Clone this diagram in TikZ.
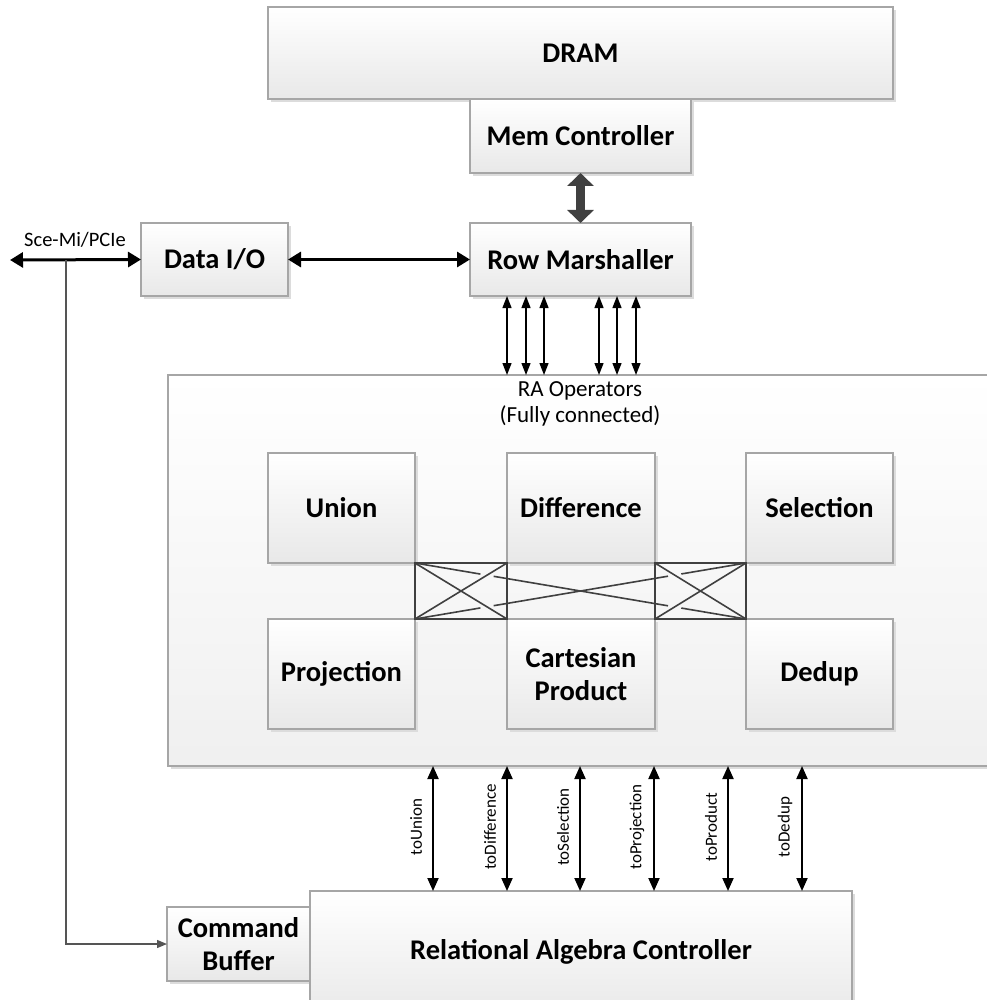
\documentclass[tikz,border=0pt]{standalone}
\usepackage{fontspec}
\setmainfont{Carlito}
\usetikzlibrary{arrows.meta,calc,shadows}
\definecolor{edge}{HTML}{A6A6A6}
\definecolor{shade}{HTML}{DCDCDC}
\definecolor{wire}{HTML}{404040}
\definecolor{tapline}{HTML}{555555}
\begin{document}
\begin{tikzpicture}[x=1pt,y=-1pt,
  block/.style={draw=edge, line width=1.1pt, top color=white, bottom color=black!9,
    inner sep=0pt, outer sep=0pt, align=center,
    font=\fontsize{28.5}{33}\selectfont\bfseries,
    drop shadow={shadow xshift=3pt, shadow yshift=-3pt, fill=shade, opacity=1}},
  panel/.style={block, top color=white, bottom color=black!6},
  small/.style={font=\fontsize{23}{26}\selectfont, align=center},
  vlabel/.style={font=\fontsize{17}{20}\selectfont, rotate=90},
  bus/.style={line width=3pt, {Triangle[width=15pt,length=13pt]}-{Triangle[width=15pt,length=13pt]}},
  lane/.style={line width=1.3pt, {Triangle[width=9pt,length=12pt]}-{Triangle[width=9pt,length=12pt]}},
  port/.style={line width=2pt, {Triangle[width=11pt,length=13pt]}-{Triangle[width=11pt,length=13pt]}},
  xbar/.style={draw=wire, line width=1.6pt, inner sep=0pt, outer sep=0pt},
  xwire/.style={draw=wire, line width=1.6pt}
]
\useasboundingbox (0,0) rectangle (986,1000);

% memory side
\node[block, minimum width=625pt, minimum height=92pt] (dram) at (580.5,53) {DRAM};
\node[block, minimum width=221pt, minimum height=74pt] (mem) at (580.5,136) {Mem Controller};
\node[block, minimum width=221pt, minimum height=73pt] (row) at (580.5,259.5) {Row Marshaller};
\node[block, minimum width=147pt, minimum height=73pt] (dataio) at (214.5,259.5) {Data I/O};

% operator panel
\node[panel, minimum width=842pt, minimum height=391pt] (ra) at (589,570.5) {};
\node[small] (ratitle) at (580,404) {RA Operators\\(Fully connected)};

\node[block, minimum width=147pt, minimum height=110pt] (union) at (341.5,508) {Union};
\node[block, minimum width=148pt, minimum height=110pt] (diff) at (581,508) {Difference};
\node[block, minimum width=147pt, minimum height=110pt] (sel) at (819.5,508) {Selection};
\node[block, minimum width=147pt, minimum height=110pt] (proj) at (341.5,674) {Projection};
\node[block, minimum width=148pt, minimum height=110pt] (cart) at (581,674) {Cartesian\\Product};
\node[block, minimum width=147pt, minimum height=110pt] (dedup) at (819.5,674) {Dedup};

% crossbar between the operators
\node[xbar, minimum width=92pt, minimum height=56pt] (xl) at (461,591) {};
\node[xbar, minimum width=91pt, minimum height=56pt] (xr) at (700.5,591) {};
\draw[xwire] (xl.north west) -- ($(xl.north west)!0.1975!(xr.south east)$)
             ($(xl.north west)!0.2375!(xr.south east)$) -- ($(xl.north west)!0.7644!(xr.south east)$)
             ($(xl.north west)!0.8044!(xr.south east)$) -- (xr.south east);
\draw[xwire] (xl.south west) -- ($(xl.south west)!0.1975!(xr.north east)$)
             ($(xl.south west)!0.2375!(xr.north east)$) -- ($(xl.south west)!0.7644!(xr.north east)$)
             ($(xl.south west)!0.8044!(xr.north east)$) -- (xr.north east);
\draw[xwire] (xl.north west) -- (xl.south east) (xl.north east) -- (xl.south west);
\draw[xwire] (xr.north west) -- (xr.south east) (xr.north east) -- (xr.south west);

% controller
\node[block, minimum width=143pt, minimum height=74pt] (cmd) at (238.5,944) {Command\\Buffer};
\node[block, minimum width=542pt, minimum height=130pt, anchor=north] (rac) at (581,891)
  {\raisebox{13pt}{Relational Algebra Controller}};

% memory link
\draw[wire, line width=9pt, {Triangle[width=26pt,length=13pt]}-{Triangle[width=26pt,length=13pt]}]
  (mem.south) -- (row.north);

% host link
\coordinate (host) at (10,260);
\coordinate (tap) at (66,260);
\draw[bus] (host) -- (dataio.west);
\node[font=\fontsize{20.5}{24}\selectfont] (hostlabel) at (75,240) {Sce-Mi/PCIe};
\draw[bus] (dataio.east) -- (row.west);
\draw[tapline, line width=1.3pt, -{Triangle[width=8pt,length=10pt]}] (tap) |- (cmd.west);

% marshaller lanes
\foreach \x in {507,526,544,599,617,636}
  \draw[lane] (\x,0 |- row.south) -- (\x,0 |- ra.north);

% controller ports
\foreach \x/\t in {433/toUnion,507/toDifference,580/toSelection,654/toProjection,728/toProduct,802/toDedup}{
  \draw[port] (\x,0 |- ra.south) -- (\x,0 |- rac.north);
  \node[vlabel] at (\x-17,827) {\t};
}
\end{tikzpicture}
\end{document}
